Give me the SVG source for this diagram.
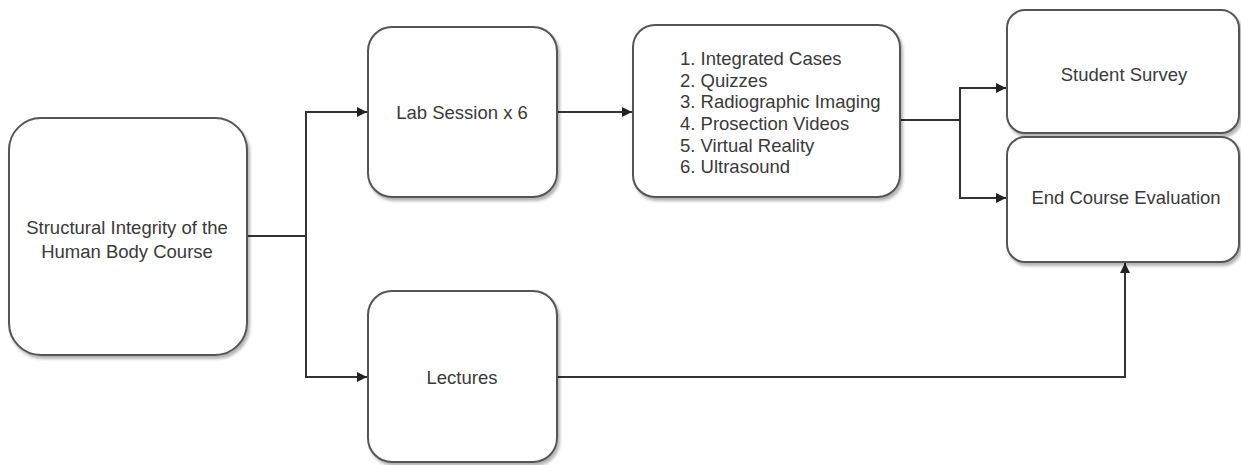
<svg xmlns="http://www.w3.org/2000/svg" width="1241" height="465" viewBox="0 0 1241 465">
<defs>
<filter id="sh" x="-10%" y="-10%" width="125%" height="125%">
<feGaussianBlur in="SourceAlpha" stdDeviation="1.5"/>
<feOffset dx="2" dy="3" result="b"/>
<feComponentTransfer><feFuncA type="linear" slope="0.3"/></feComponentTransfer>
<feMerge><feMergeNode/><feMergeNode in="SourceGraphic"/></feMerge>
</filter>
<marker id="ah" viewBox="0 0 10 10" refX="10" refY="5" markerWidth="10" markerHeight="10" markerUnits="userSpaceOnUse" orient="auto">
<path d="M0,0 L10,5 L0,10 Z" fill="#222"/>
</marker>
</defs>
<style>
.box{fill:#fff;stroke:#555;stroke-width:2;filter:url(#sh)}
.t{font-family:"Liberation Sans",Arial,sans-serif;font-size:18.5px;fill:#3a3a3a}
.c{text-anchor:middle}
.ln{fill:none;stroke:#333;stroke-width:2}
</style>
<rect width="1241" height="465" fill="#fff"/>
<g id="connectors">
<polyline class="ln" points="247,236 306,236"/>
<polyline class="ln" points="306,236 306,112 367,112" marker-end="url(#ah)"/>
<polyline class="ln" points="306,236 306,377 367,377" marker-end="url(#ah)"/>
<polyline class="ln" points="557,112 632,112" marker-end="url(#ah)"/>
<polyline class="ln" points="900,120 960,120"/>
<polyline class="ln" points="960,120 960,88 1006,88" marker-end="url(#ah)"/>
<polyline class="ln" points="960,120 960,198 1006,198" marker-end="url(#ah)"/>
<polyline class="ln" points="557,377 1125,377 1125,263" marker-end="url(#ah)"/>
</g>
<g id="course">
<rect class="box" x="9" y="118" width="238" height="237" rx="32"/>
<text class="t c" x="127" y="234">Structural Integrity of the</text>
<text class="t c" x="127" y="258">Human Body Course</text>
</g>
<g id="lab">
<rect class="box" x="368" y="27" width="189" height="170" rx="24"/>
<text class="t c" x="462" y="119">Lab Session x 6</text>
</g>
<g id="lectures">
<rect class="box" x="368" y="291" width="189" height="171" rx="24"/>
<text class="t c" x="462" y="384">Lectures</text>
</g>
<g id="activities">
<rect class="box" x="633" y="25" width="267" height="172" rx="22"/>
<text class="t" x="680" y="65">1. Integrated Cases</text>
<text class="t" x="680" y="86.5">2. Quizzes</text>
<text class="t" x="680" y="108">3. Radiographic Imaging</text>
<text class="t" x="680" y="130">4. Prosection Videos</text>
<text class="t" x="680" y="152">5. Virtual Reality</text>
<text class="t" x="680" y="173">6. Ultrasound</text>
</g>
<g id="survey">
<rect class="box" x="1007" y="10" width="232" height="123" rx="18"/>
<text class="t c" x="1124" y="81">Student Survey</text>
</g>
<g id="evaluation">
<rect class="box" x="1007" y="137" width="232" height="125" rx="18"/>
<text class="t c" x="1126" y="204">End Course Evaluation</text>
</g>
</svg>
